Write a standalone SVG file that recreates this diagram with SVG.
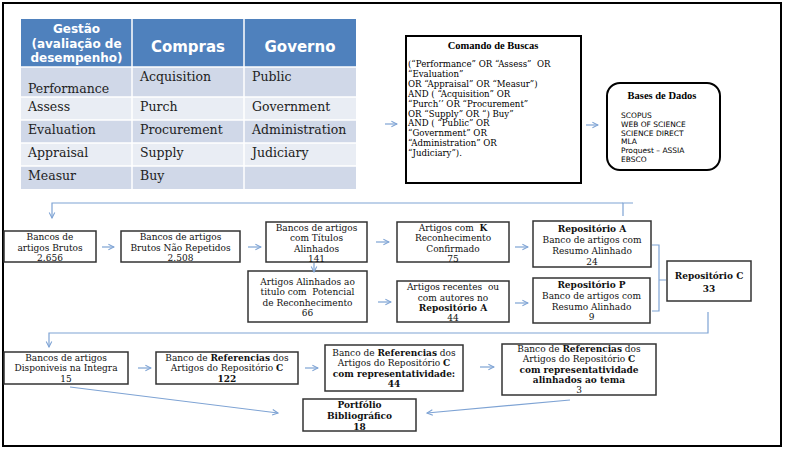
<svg xmlns="http://www.w3.org/2000/svg" width="789" height="452" viewBox="0 0 789 452">
<style>
.frame{fill:#fff;stroke:#000;stroke-width:2}
.bx{fill:#fff;stroke:#333;stroke-width:1.5}
.bk{fill:#fff;stroke:#000;stroke-width:2}
.t{font-family:"DejaVu Serif",serif;font-size:9px;fill:#111;text-anchor:middle}
.b{font-weight:bold}
.ttl{font-family:"Liberation Serif",serif;font-size:10.5px;font-weight:bold;fill:#000;text-anchor:middle}
.cn{fill:none;stroke:#7ea3d4;stroke-width:1.2}
.th{font-family:"DejaVu Sans",sans-serif;font-weight:bold;fill:#fff;text-anchor:middle}
.tb{font-family:"DejaVu Serif",serif;font-size:12.5px;fill:#222}
.cmd{font-family:"DejaVu Serif",serif;font-size:8.6px;fill:#000;white-space:pre}
.db{font-family:"DejaVu Sans",sans-serif;font-size:7.5px;fill:#000}
.hd{fill:#4f81bd}
.r1{fill:#d0d8e8}
.r2{fill:#e9edf4}
.grid{stroke:#fff;stroke-width:1.5}
</style>
<defs>
<marker id="ah" viewBox="0 0 10 10" refX="9" refY="5" markerWidth="8" markerHeight="8" markerUnits="userSpaceOnUse" orient="auto">
<path d="M2,1.5 L9,5 L2,8.5" fill="none" stroke="#7ea3d4" stroke-width="1.3"/>
</marker>
</defs>
<rect class="frame" x="3" y="3" width="778" height="443"/>

<g id="table">
<rect class="hd" x="21" y="19" width="335" height="48"/>
<rect class="r1" x="21" y="67" width="335" height="30"/>
<rect class="r2" x="21" y="97" width="335" height="23"/>
<rect class="r1" x="21" y="120" width="335" height="23"/>
<rect class="r2" x="21" y="143" width="335" height="23"/>
<rect class="r1" x="21" y="166" width="335" height="23"/>
<g class="grid">
<line x1="132" y1="19" x2="132" y2="189"/>
<line x1="244" y1="19" x2="244" y2="189"/>
<line x1="21" y1="67" x2="356" y2="67"/>
<line x1="21" y1="97" x2="356" y2="97"/>
<line x1="21" y1="120" x2="356" y2="120"/>
<line x1="21" y1="143" x2="356" y2="143"/>
<line x1="21" y1="166" x2="356" y2="166"/>
</g>
<text class="th" x="76.5" y="33" font-size="12">Gestão</text>
<text class="th" x="76.5" y="47.5" font-size="12">(avaliação de</text>
<text class="th" x="76.5" y="62" font-size="12">desempenho)</text>
<text class="th" x="188" y="52" font-size="15">Compras</text>
<text class="th" x="300" y="52" font-size="15">Governo</text>
<text class="tb" x="28" y="93">Performance</text>
<text class="tb" x="140" y="81">Acquisition</text>
<text class="tb" x="252" y="81">Public</text>
<text class="tb" x="28" y="111">Assess</text>
<text class="tb" x="140" y="111">Purch</text>
<text class="tb" x="252" y="111">Government</text>
<text class="tb" x="28" y="133.5">Evaluation</text>
<text class="tb" x="140" y="133.5">Procurement</text>
<text class="tb" x="252" y="133.5">Administration</text>
<text class="tb" x="28" y="156.5">Appraisal</text>
<text class="tb" x="140" y="156.5">Supply</text>
<text class="tb" x="252" y="156.5">Judiciary</text>
<text class="tb" x="28" y="179.5">Measur</text>
<text class="tb" x="140" y="179.5">Buy</text>
</g>

<g id="comando">
<rect class="bk" x="406" y="36" width="175" height="147"/>
<text class="ttl" x="493" y="48.5">Comando de Buscas</text>
<text class="cmd" x="408" y="67">(“Performance” OR “Assess”  OR</text>
<text class="cmd" x="408" y="76.9">“Evaluation”</text>
<text class="cmd" x="408" y="86.8">OR “Appraisal” OR “Measur”)</text>
<text class="cmd" x="408" y="96.7">AND ( “Acquisition” OR</text>
<text class="cmd" x="408" y="106.6">“Purch’’ OR “Procurement”</text>
<text class="cmd" x="408" y="116.5">OR “Supply” OR “) Buy”</text>
<text class="cmd" x="408" y="126.4">AND ( “Public” OR</text>
<text class="cmd" x="408" y="136.3">“Government” OR</text>
<text class="cmd" x="408" y="146.2">“Administration” OR</text>
<text class="cmd" x="408" y="156.1">“Judiciary”).</text>
</g>

<g id="bases">
<rect class="bk" x="607" y="83" width="113" height="87" rx="13" ry="13"/>
<text class="ttl" x="662" y="98.5">Bases de Dados</text>
<text class="db" x="621" y="118">SCOPUS</text>
<text class="db" x="621" y="126.8">WEB OF SCIENCE</text>
<text class="db" x="621" y="135.6">SCIENCE DIRECT</text>
<text class="db" x="621" y="144.4">MLA</text>
<text class="db" x="621" y="153.2">Proquest – ASSIA</text>
<text class="db" x="621" y="162">EBSCO</text>
</g>

<g id="brutos">
<rect class="bx" x="4" y="231" width="92" height="31"/>
<text class="t" x="50" y="240">Bancos de</text>
<text class="t" x="50" y="250.5">artigos Brutos</text>
<text class="t" x="50" y="261">2.656</text>
</g>
<g id="naorepetidos">
<rect class="bx" x="121" y="231" width="119" height="31"/>
<text class="t" x="180.5" y="240">Bancos de artigos</text>
<text class="t" x="180.5" y="250.5">Brutos Não Repetidos</text>
<text class="t" x="180.5" y="261">2.508</text>
</g>
<g id="titulos">
<rect class="bx" x="266" y="222" width="101" height="40"/>
<text class="t" x="316.5" y="230.5">Bancos de artigos</text>
<text class="t" x="316.5" y="241">com Títulos</text>
<text class="t" x="316.5" y="251.5">Alinhados</text>
<text class="t" x="316.5" y="262">141</text>
</g>
<g id="confirmado">
<rect class="bx" x="397" y="222" width="112" height="40"/>
<text class="t" x="453" y="230.5" xml:space="preserve">Artigos com  <tspan class="b">K</tspan></text>
<text class="t" x="453" y="241">Reconhecimento</text>
<text class="t" x="453" y="251.5">Confirmado</text>
<text class="t" x="453" y="262">75</text>
</g>
<g id="repA">
<rect class="bx" x="533" y="221" width="118" height="46"/>
<text class="t b" x="592" y="231.5">Repositório A</text>
<text class="t" x="592" y="242.5">Banco de artigos com</text>
<text class="t" x="592" y="253.5">Resumo Alinhado</text>
<text class="t" x="592" y="264.5">24</text>
</g>
<g id="potencial">
<rect class="bx" x="248" y="271" width="119" height="51"/>
<text class="t" x="307.5" y="284.5">Artigos Alinhados ao</text>
<text class="t" x="307.5" y="295" xml:space="preserve">titulo com  Potencial</text>
<text class="t" x="307.5" y="305.5">de Reconhecimento</text>
<text class="t" x="307.5" y="316">66</text>
</g>
<g id="recentes">
<rect class="bx" x="397" y="281" width="112" height="41"/>
<text class="t" x="453" y="290" xml:space="preserve">Artigos recentes  ou</text>
<text class="t" x="453" y="300.5">com autores no</text>
<text class="t b" x="453" y="311">Repositório A</text>
<text class="t" x="453" y="321">44</text>
</g>
<g id="repP">
<rect class="bx" x="533" y="278" width="117" height="45"/>
<text class="t b" x="591.5" y="287.5">Repositório P</text>
<text class="t" x="591.5" y="298.5">Banco de artigos com</text>
<text class="t" x="591.5" y="309.5">Resumo Alinhado</text>
<text class="t" x="591.5" y="320">9</text>
</g>
<g id="repC">
<rect class="bx" x="667" y="261" width="84" height="40"/>
<text class="t b" x="709" y="279">Repositório C</text>
<text class="t b" x="709" y="291.5">33</text>
</g>
<g id="integra">
<rect class="bx" x="4" y="352" width="124" height="32"/>
<text class="t" x="66" y="360.5">Bancos de artigos</text>
<text class="t" x="66" y="371">Disponiveis na Integra</text>
<text class="t" x="66" y="381.5">15</text>
</g>
<g id="referencias">
<rect class="bx" x="156" y="352" width="142" height="32"/>
<text class="t" x="227" y="360.5">Banco de <tspan class="b">Referencias</tspan> dos</text>
<text class="t" x="227" y="371">Artigos do Repositório <tspan class="b">C</tspan></text>
<text class="t b" x="227" y="381.5">122</text>
</g>
<g id="representatividade">
<rect class="bx" x="325" y="345" width="138" height="46"/>
<text class="t" x="394" y="355.5">Banco de <tspan class="b">Referencias</tspan> dos</text>
<text class="t" x="394" y="366">Artigos do Repositório <tspan class="b">C</tspan></text>
<text class="t b" x="394" y="376.5">com representatividade:</text>
<text class="t b" x="394" y="387">44</text>
</g>
<g id="tema">
<rect class="bx" x="502" y="344" width="154" height="51"/>
<text class="t" x="579" y="352">Banco de <tspan class="b">Referencias</tspan> dos</text>
<text class="t" x="579" y="362.3">Artigos do Repositório <tspan class="b">C</tspan></text>
<text class="t b" x="579" y="372.6">com representatividade</text>
<text class="t b" x="579" y="382.9">alinhados ao tema</text>
<text class="t" x="579" y="393">3</text>
</g>
<g id="portfolio">
<rect class="bx" x="303" y="399" width="113" height="32"/>
<text class="t b" x="359.5" y="407.5">Portfólio</text>
<text class="t b" x="359.5" y="418.5">Bibliográfico</text>
<text class="t b" x="359.5" y="429.5">18</text>
</g>

<g id="connectors" class="cn">
<path d="M385,124 H397" marker-end="url(#ah)"/>
<path d="M586,125 H598" marker-end="url(#ah)"/>
<path d="M633,203 H623 V216"/>
<path d="M623,203 H52 V218" marker-end="url(#ah)"/>
<path d="M102,247 H114" marker-end="url(#ah)"/>
<path d="M248,247 H261" marker-end="url(#ah)"/>
<path d="M376,242 H389" marker-end="url(#ah)"/>
<path d="M515,247 H528" marker-end="url(#ah)"/>
<path d="M314,263 V272" marker-end="url(#ah)"/>
<path d="M378,302 H391" marker-end="url(#ah)"/>
<path d="M515,303 H528" marker-end="url(#ah)"/>
<path d="M652,245 H659 V311 H652 M659,280 H666"/>
<path d="M708,312 V333 H49 V347" marker-end="url(#ah)"/>
<path d="M138,368 H151" marker-end="url(#ah)"/>
<path d="M305,368 H318" marker-end="url(#ah)"/>
<path d="M480,367 H494" marker-end="url(#ah)"/>
<path d="M70,387 L278,413" marker-end="url(#ah)"/>
<path d="M570,400 L427,413" marker-end="url(#ah)"/>
</g>
</svg>
